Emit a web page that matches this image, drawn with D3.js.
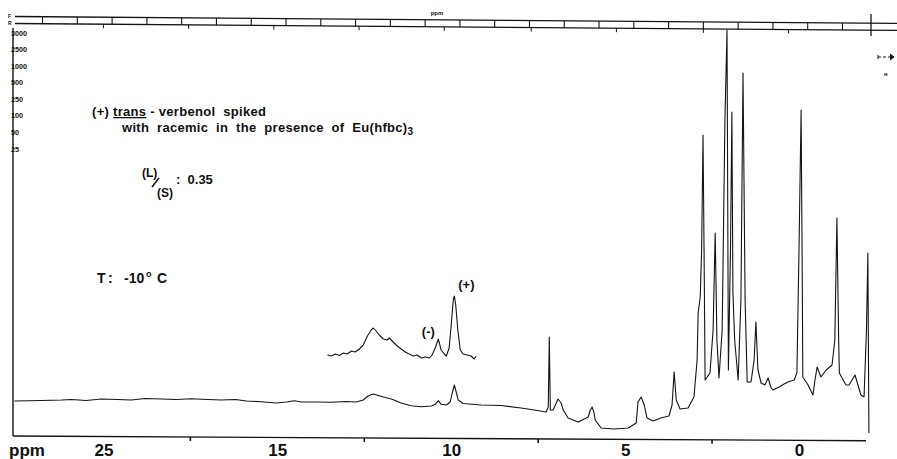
<!DOCTYPE html>
<html>
<head>
<meta charset="utf-8">
<script src="https://cdn.jsdelivr.net/npm/d3@7"></script>
<style>
  body { margin: 0; background: #fff; }
  svg { display: block; background: #fff; }
  text { font-family: "Liberation Sans", Arial, sans-serif; font-weight: bold; fill: #111; white-space: pre; }
</style>
</head>
<body>
<svg id="chart" width="897" height="459"></svg>
<script>
// Full 1H NMR trace: chemical shift (ppm) and pen deflection
const spectrumPpm = [
  22.56, 21.78, 21.2, 20.92, 20.5, 20.06, 19.6, 19.2, 18.8, 18.33, 17.9, 17.47, 17.0, 16.61, 16.2, 15.89,
  15.46, 15.03, 14.74, 14.51, 14.31, 13.88, 13.45, 13.02, 12.73, 12.53, 12.39, 12.24, 12.10, 11.95, 11.72,
  11.44, 11.15, 10.86, 10.57, 10.46, 10.37, 10.29, 10.14, 10.03, 9.97, 9.91, 9.85, 9.80, 9.66, 9.14, 8.56,
  7.99, 7.61, 7.27, 7.21, 7.18, 7.15, 7.07, 6.98, 6.93, 6.84, 6.78, 6.64, 6.35, 6.06, 6.01, 5.95, 5.90,
  5.86, 5.69, 5.32, 4.91, 4.68, 4.63, 4.54, 4.45, 4.37, 4.20, 3.97, 3.74, 3.65, 3.59, 3.53, 3.42, 3.19,
  3.02, 2.93, 2.90, 2.84, 2.80, 2.76, 2.73, 2.70, 2.56, 2.47, 2.41, 2.36, 2.30, 2.21, 2.18, 2.13, 2.07,
  2.03, 1.97, 1.93, 1.90, 1.85, 1.75, 1.67, 1.61, 1.55, 1.49, 1.38, 1.29, 1.24, 1.18, 1.09, 0.98, 0.89,
  0.80, 0.75, 0.57, 0.43, 0.32, 0.14, 0.06, 0.00, -0.06, -0.09, -0.11, -0.26, -0.40, -0.46, -0.52, -0.63,
  -0.78, -0.95, -1.03, -1.09, -1.14, -1.16, -1.35, -1.44, -1.61, -1.78, -1.87, -1.94, -1.98, -2.01
];
const spectrumIntensity = [
  36, 36.5, 37, 37.5, 36.5, 38, 37.5, 37, 38.5, 38, 37.5, 38.3, 37.5, 37, 37.5, 36,
  35.3, 34, 35, 36.3, 35, 35, 34.7, 35.5, 35, 37, 41, 43, 41.5, 40, 38,
  34, 31.3, 30.3, 31, 32.7, 36.3, 32.7, 32, 35, 44, 52, 44, 37, 33.5, 32, 31.5,
  29, 27, 25, 30, 100, 27, 27, 34, 38, 34, 27, 19, 15, 20, 26, 30, 25,
  17, 9, 8, 9, 14, 35, 40, 32, 19, 16, 19, 21, 32, 65, 37, 28, 29,
  40, 77, 124, 140, 187, 302, 187, 57, 64, 107, 204, 97, 59, 107, 184, 317, 407,
  67, 187, 325, 144, 97, 57, 137, 364, 137, 55, 55, 77, 115, 67, 54, 52, 59,
  49, 47, 50, 53, 55, 57, 64, 187, 327, 177, 60, 52, 42, 57, 70, 60,
  67, 72, 97, 219, 97, 64, 52, 52, 62, 42, 40, 107, 184, 4
];

// Expanded (high-gain) sweep over the 13.5 - 9.3 ppm region
const insetPpm = [
  13.56, 13.45, 13.33, 13.22, 13.10, 12.99, 12.87, 12.76, 12.64, 12.53, 12.41, 12.30, 12.24, 12.16, 12.07,
  11.95, 11.84, 11.78, 11.67, 11.55, 11.44, 11.32, 11.21, 11.09, 10.98, 10.86, 10.75, 10.63, 10.55, 10.46,
  10.37, 10.29, 10.20, 10.14, 10.06, 10.00, 9.94, 9.91, 9.87, 9.81, 9.74, 9.66, 9.54, 9.43, 9.34, 9.28
];
const insetIntensity = [
  5, 4, 6, 4.5, 7, 6, 9, 8, 11, 15, 24, 30, 32, 29, 25,
  21, 20, 22, 18, 14, 11, 8, 6, 4, 5, 2, 3, 2, 5, 12,
  21, 10, 6, 4, 12, 35, 60, 64, 55, 30, 10, 6, 5, 4, 1, 4
];

// Shift axis ticks and the labels printed under them
const xTickValues = [20, 15, 10, 5, 0];
const xTickLabels = ["25", "15", "10", "5", "0"];
const xMinorTicks = [17.5, 12.5, 7.5, 2.5];

// Sweep-width scale printed along the left edge
const sweepLabels = ["3000", "2500", "1000", "500", "250", "100", "50", "25"];

// Chart-paper ruler: box dividers and small marks (ppm)
const rulerDividers = [21.75, 20.75, 19.75, 18.75, 17.75, 16.75, 15.75, 14.75, 13.75, 12.75, 11.75, 10.75,
  9.75, 8.75, 7.75, 6.75, 5.75, 4.75, 3.75, 2.75, 1.75, 0.75, -0.25, -1.25];
const rulerMarks = [20, 17.55, 15.1, 12.65, 10.2, 7.7, 5.25, 2.75, 0.3];

const svg = d3.select("#chart");
const ink = "#141414";

const x = d3.scaleLinear().domain([22.6, -2.07]).range([13, 871]);
const y = d3.scaleLinear().domain([0, 407]).range([437, 30]);
const yInset = d3.scaleLinear().domain([0, 100]).range([360, 260]);

// the paper sits very slightly askew
const rulerTop = px => 16.5 + (px - 13) * 0.0078;
const baseY = px => 436 + (px - 13) * 0.0055;

// ---- top ruler ----
const ruler = svg.append("g").attr("stroke", ink).attr("fill", "none");
ruler.append("line").attr("x1", 15).attr("x2", 897)
  .attr("y1", rulerTop(15)).attr("y2", rulerTop(897)).attr("stroke-width", 1.3);
ruler.append("line").attr("x1", 15).attr("x2", 897)
  .attr("y1", rulerTop(15) + 7).attr("y2", rulerTop(897) + 7).attr("stroke-width", 1.3);
ruler.selectAll(".div").data(rulerDividers).join("line")
  .attr("x1", d => x(d)).attr("x2", d => x(d))
  .attr("y1", d => rulerTop(x(d))).attr("y2", d => rulerTop(x(d)) + 7)
  .attr("stroke-width", 1.1);
ruler.selectAll(".mark").data(rulerMarks).join("line")
  .attr("x1", d => x(d)).attr("x2", d => x(d))
  .attr("y1", d => rulerTop(x(d)) + 7).attr("y2", d => rulerTop(x(d)) + 11)
  .attr("stroke-width", 1);
// end-of-sweep cross
ruler.append("line").attr("x1", 871).attr("x2", 871).attr("y1", 14).attr("y2", 36).attr("stroke-width", 1.3);

svg.append("text").attr("x", 437).attr("y", 15).attr("text-anchor", "middle")
  .attr("font-size", 6).text("ppm");
svg.append("text").attr("x", 8).attr("y", 18).attr("font-size", 5).text("F");
svg.append("text").attr("x", 8).attr("y", 25).attr("font-size", 5).text("R");

// small marks at the right margin
const rm = svg.append("g").attr("stroke", ink).attr("stroke-width", 1).attr("fill", "none");
rm.append("line").attr("x1", 878).attr("x2", 892).attr("y1", 57).attr("y2", 57).attr("stroke-dasharray", "3,2");
rm.append("line").attr("x1", 878).attr("x2", 878).attr("y1", 55).attr("y2", 59);
rm.append("path").attr("d", "M890,54 L894,57 L890,60").attr("fill", ink);
svg.append("text").attr("x", 884).attr("y", 76).attr("font-size", 6).text("н");

// ---- left edge scale ----
svg.append("line").attr("x1", 13).attr("x2", 13).attr("y1", 28).attr("y2", 436)
  .attr("stroke", ink).attr("stroke-width", 1.4);
const sweep = d3.scalePoint().domain(sweepLabels).range([33, 149]);
svg.append("g").selectAll("text").data(sweepLabels).join("text")
  .attr("x", 11).attr("y", d => sweep(d)).attr("dy", "0.35em")
  .attr("font-size", 7.2).attr("fill", "#000").text(d => d);

// ---- bottom axis ----
svg.append("line").attr("x1", 13).attr("x2", 866)
  .attr("y1", baseY(13)).attr("y2", baseY(866))
  .attr("stroke", ink).attr("stroke-width", 1.4);
svg.append("g").selectAll("line").data(xMinorTicks).join("line")
  .attr("x1", d => x(d)).attr("x2", d => x(d))
  .attr("y1", d => baseY(x(d))).attr("y2", d => baseY(x(d)) + 4)
  .attr("stroke", ink).attr("stroke-width", 1.6);

const xAxis = d3.axisBottom(x)
  .tickValues(xTickValues)
  .tickFormat((d, i) => xTickLabels[i])
  .tickSize(0).tickPadding(0);
const gx = svg.append("g").attr("transform", "translate(0,440)").call(xAxis);
gx.select(".domain").remove();
gx.selectAll("text")
  .attr("dy", null).attr("y", 16)
  .attr("font-size", 17).attr("font-family", "Liberation Sans, Arial, sans-serif")
  .attr("font-weight", "bold").attr("fill", ink);
svg.append("text").attr("x", 9).attr("y", 456).attr("font-size", 17).text("ppm");

// ---- spectrum ----
const mainPts = spectrumPpm.map((p, i) => ({ ppm: p, v: spectrumIntensity[i] }));
const line = d3.line().x(d => x(d.ppm)).y(d => y(d.v));
svg.append("path").datum(mainPts).attr("d", line)
  .attr("fill", "none").attr("stroke", ink).attr("stroke-width", 1.1)
  .attr("stroke-linejoin", "round");

const insetPts = insetPpm.map((p, i) => ({ ppm: p, v: insetIntensity[i] }));
const insetLine = d3.line().x(d => x(d.ppm)).y(d => yInset(d.v));
svg.append("path").datum(insetPts).attr("d", insetLine)
  .attr("fill", "none").attr("stroke", ink).attr("stroke-width", 1.1)
  .attr("stroke-linejoin", "round");

svg.append("text").attr("x", x(10.37) - 10).attr("y", 336).attr("text-anchor", "middle")
  .attr("font-size", 13).text("(-)");
svg.append("text").attr("x", x(9.91) + 12).attr("y", 289).attr("text-anchor", "middle")
  .attr("font-size", 13).text("(+)");

// ---- annotations ----
const t1 = svg.append("text").attr("x", 92).attr("y", 116).attr("font-size", 13).attr("letter-spacing", 0.3);
t1.append("tspan").text("(+) ");
t1.append("tspan").attr("text-decoration", "underline").text("trans");
t1.append("tspan").text(" - verbenol  spiked");

const t2 = svg.append("text").attr("x", 122).attr("y", 132).attr("font-size", 13).attr("letter-spacing", 0.3);
t2.append("tspan").text("with  racemic  in  the  presence  of  Eu(hfbc)");
t2.append("tspan").attr("font-size", 10).attr("dy", 3).text("3");

svg.append("text").attr("x", 142).attr("y", 177).attr("font-size", 12).text("(L)");
svg.append("line").attr("x1", 152).attr("y1", 187).attr("x2", 159).attr("y2", 178)
  .attr("stroke", ink).attr("stroke-width", 1.6);
svg.append("text").attr("x", 157).attr("y", 197).attr("font-size", 12).text("(S)");
svg.append("text").attr("x", 176).attr("y", 184).attr("font-size", 13).text(":  0.35");

const tt = svg.append("text").attr("y", 283).attr("font-size", 14);
tt.append("tspan").attr("x", 97).text("T");
tt.append("tspan").attr("x", 108).text(":");
tt.append("tspan").attr("x", 124).text("-10");
tt.append("tspan").attr("x", 146).attr("dy", -6).attr("font-size", 9).text("o");
tt.append("tspan").attr("x", 157).attr("dy", 6).text("C");
</script>
</body>
</html>
